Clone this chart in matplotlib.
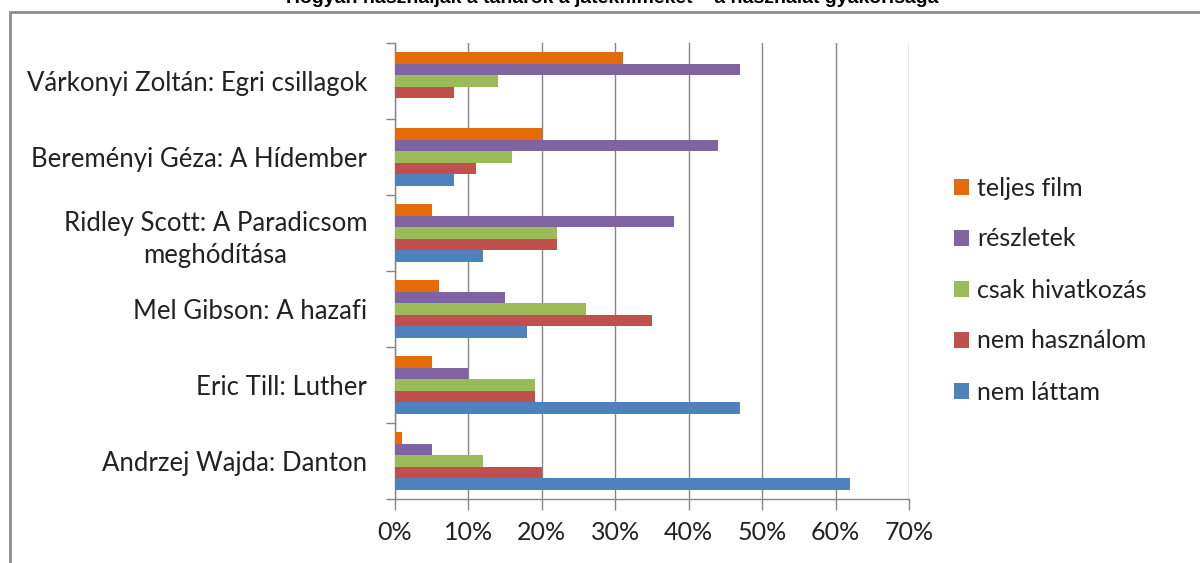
import matplotlib
matplotlib.use("Agg")
import matplotlib.pyplot as plt
from matplotlib.patches import Rectangle
import numpy as np

title = "Hogyan használják a tanárok a játékfilmeket – a használat gyakorisága"

categories = [
    "Várkonyi Zoltán: Egri csillagok",
    "Bereményi Géza: A Hídember",
    "Ridley Scott: A Paradicsom\nmeghódítása",
    "Mel Gibson: A hazafi",
    "Eric Till: Luther",
    "Andrzej Wajda: Danton",
]
series_names = ["teljes film", "részletek", "csak hivatkozás", "nem használom", "nem láttam"]
teljes_film     = [31, 20, 5, 6, 5, 1]
reszletek       = [47, 44, 38, 15, 10, 5]
csak_hivatkozas = [14, 16, 22, 26, 19, 12]
nem_hasznalom   = [8, 11, 22, 35, 19, 20]
nem_lattam      = [0, 8, 12, 18, 47, 62]
series_values = [teljes_film, reszletek, csak_hivatkozas, nem_hasznalom, nem_lattam]
colors = ["#E36C09", "#8064A2", "#9BBB59", "#C0504D", "#4F81BD"]
xticks = [0, 10, 20, 30, 40, 50, 60, 70]

FONT = "Lato"
GRAY = "#868686"

fig = plt.figure(figsize=(12, 5.63), dpi=100)
ax = fig.add_axes([395 / 1200, 1 - 499 / 563, (909 - 395) / 1200, (499 - 43) / 563])

n = len(categories)
ypos = np.arange(n)[::-1]  # first category on top
bh = 0.153
for i, (name, vals, c) in enumerate(zip(series_names, series_values, colors)):
    offs = (2 - i) * bh
    ax.barh(ypos + offs, vals, height=bh, color=c, label=name, zorder=3)

ax.set_xlim(0, 70)
ax.set_ylim(-0.5, n - 0.5)
ax.set_xticks(xticks)
ax.set_xticklabels([f"{v}%" for v in xticks], fontsize=18, family=FONT, color="#222222")
ax.tick_params(axis="x", length=8, width=1, color=GRAY, direction="out", pad=8)
ax.xaxis.grid(True, color=GRAY, linewidth=1, zorder=0)

ax.set_yticks(np.arange(-0.5, n, 1.0))
ax.set_yticklabels([])
ax.tick_params(axis="y", which="major", length=6.5, width=1, color=GRAY, direction="out")
ax.set_yticks(ypos, minor=True)
ax.set_yticklabels(categories, minor=True, fontsize=18.5, family=FONT, ha="right",
                   multialignment="center", linespacing=1.4, color="#222222")
ax.tick_params(axis="y", which="minor", length=0, pad=20)

for s in ["top", "right"]:
    ax.spines[s].set_visible(False)
for s in ["left", "bottom"]:
    ax.spines[s].set_color(GRAY)
    ax.spines[s].set_linewidth(1)

# legend
handles, labels = ax.get_legend_handles_labels()
leg = fig.legend(handles, labels, loc="center left", bbox_to_anchor=(931 / 1200, 1 - 290 / 563),
                 frameon=False, prop={"family": FONT, "size": 18}, handlelength=0.6,
                 handleheight=0.6, handletextpad=0.35, labelspacing=1.12, labelcolor="#222222")

# outer frame (cut off at the right and bottom)
fig.patches.append(Rectangle((10 / 1200, -0.05), 1.1, 1 - 12 / 563 + 0.05, transform=fig.transFigure,
                             fill=False, edgecolor="#8C8C8C", linewidth=2))

# title, mostly cut off at the top as in the source image
fig.text(0.51, 1 - 3 / 563, title, ha="center", va="baseline", fontsize=14,
         fontweight="bold", family="Liberation Sans")

fig.savefig("out.png", dpi=100)
